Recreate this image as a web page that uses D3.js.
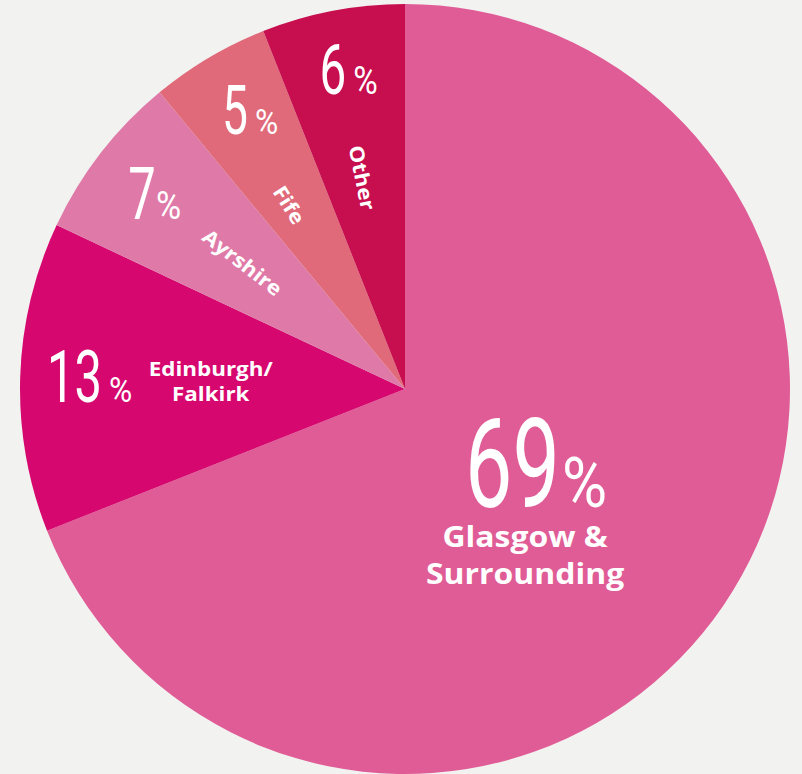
<!DOCTYPE html>
<html>
<head>
<meta charset="utf-8">
<script src="https://cdn.jsdelivr.net/npm/d3@7"></script>
<style>
  html, body { margin: 0; padding: 0; background: #f2f2f0; }
  svg { display: block; }
</style>
</head>
<body>
<svg id="chart" width="802" height="774"></svg>
<script>
// data
const categories = ["Glasgow & Surrounding", "Edinburgh/Falkirk", "Ayrshire", "Fife", "Other"];
const values = [69, 13, 7, 5, 6];
const nameLines = [["Glasgow &", "Surrounding"], ["Edinburgh/", "Falkirk"], ["Ayrshire"], ["Fife"], ["Other"]];
const colors = ["#e05c96", "#d6076f", "#df7aa8", "#e06a7a", "#c70e4e"];

const width = 802, height = 774;
const cx = 405, cy = 389, R = 385;

// label layout per slice (radius factor, angle offset in degrees, font sizes)
const numK = [0.39, 0.82, 0.825, 0.83, 0.845];
const numDa = [-5, 0.6, 0.2, 1.6, 0.8];
const numSize = [124, 72, 72, 68, 70];
const pctSize = [70, 36, 39, 36, 38];
const pctGap = [2, 7, 0, 7, 7];
const numScale = 0.68, pctScale = 0.88;
const nameK = [0.532, 0.505, 0.535, 0.565, 0.56];
const nameDa = [19.9, 0.5, 0.1, -1.6, -0.7];
const nameSize = [28.5, 20, 20, 20, 20];
const nameLh = [1.3, 1.25, 1.25, 1.25, 1.25];
const nameScale = 1.12;
const nameRot = [false, false, true, true, true];

const svg = d3.select("#chart");
const g = svg.append("g").attr("transform", "translate(" + cx + "," + cy + ")");

const pie = d3.pie().sort(null).value(d => d);
const arcs = pie(values);
const arc = d3.arc().innerRadius(0).outerRadius(R);

g.selectAll("path.slice")
    .data(arcs)
    .join("path")
    .attr("class", "slice")
    .attr("d", arc)
    .attr("fill", (d, i) => colors[i]);

function polar(a, r) {
    return [r * Math.sin(a), -r * Math.cos(a)];
}
const rad = Math.PI / 180;

// percentage numbers: digits and % sign, each narrowed on its own
arcs.forEach((d, i) => {
    const mid = (d.startAngle + d.endAngle) / 2 + numDa[i] * rad;
    const [x, y] = polar(mid, numK[i] * R);
    const lab = g.append("g");
    const base = numSize[i] * 0.36;
    const num = lab.append("text")
        .attr("fill", "#fff")
        .style("font-family", "Roboto, sans-serif")
        .style("font-size", numSize[i] + "px")
        .text(d.data);
    const nw = num.node().getComputedTextLength() * numScale;
    num.attr("transform", "translate(0," + base + ") scale(" + numScale + ",1)");
    const pct = lab.append("text")
        .attr("fill", "#fff")
        .style("font-family", "Roboto, sans-serif")
        .style("font-size", pctSize[i] + "px")
        .text("%");
    const pw = pct.node().getComputedTextLength() * pctScale;
    pct.attr("transform", "translate(" + (nw + pctGap[i]) + "," + base + ") scale(" + pctScale + ",1)");
    const total = nw + pctGap[i] + pw;
    lab.attr("transform", "translate(" + (x - total / 2) + "," + y + ")");
});

// category names
arcs.forEach((d, i) => {
    const midA = (d.startAngle + d.endAngle) / 2 + nameDa[i] * rad;
    const [x, y] = polar(midA, nameK[i] * R);
    const rot = nameRot[i] ? (midA / rad - 270) : 0;
    const lh = nameSize[i] * nameLh[i];
    const t = g.append("text")
        .attr("transform", "translate(" + x + "," + y + ") rotate(" + rot + ") scale(" + nameScale + ",1)")
        .attr("text-anchor", "middle")
        .attr("fill", "#fff")
        .style("font-family", "'Open Sans', sans-serif")
        .style("font-weight", 700)
        .style("font-size", nameSize[i] + "px");
    const lines = nameLines[i];
    lines.forEach((s, j) => {
        t.append("tspan")
            .attr("x", 0)
            .attr("y", (j - (lines.length - 1) / 2) * lh + nameSize[i] * 0.36)
            .text(s);
    });
});
</script>
</body>
</html>
